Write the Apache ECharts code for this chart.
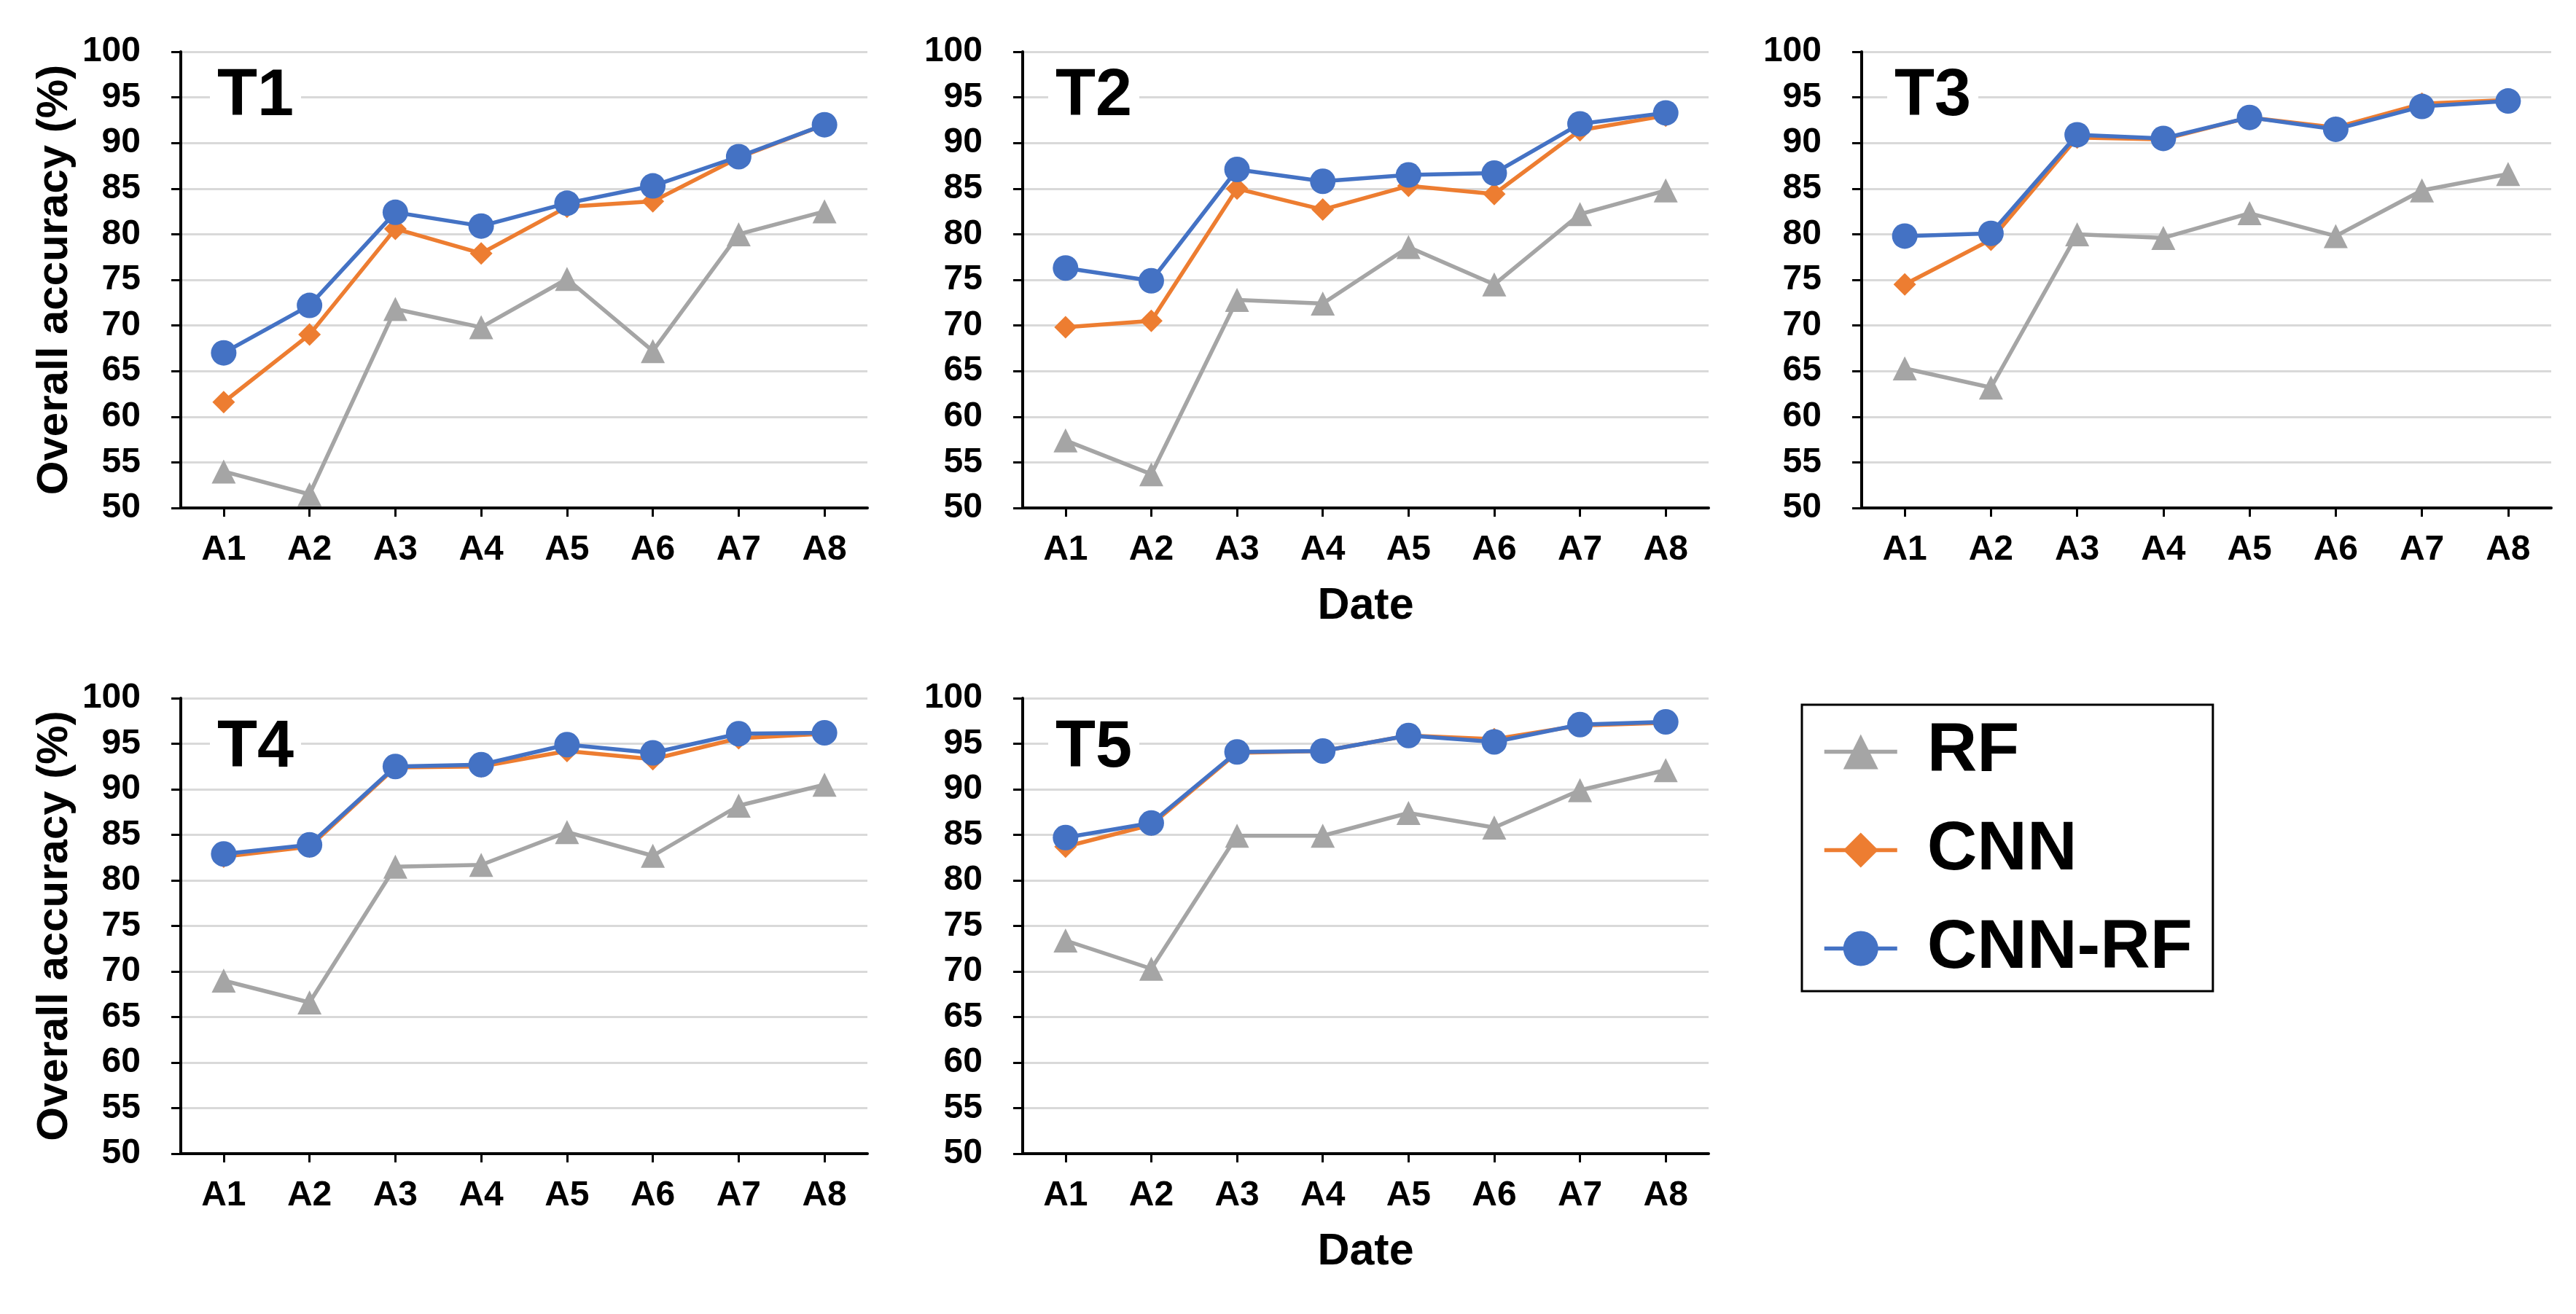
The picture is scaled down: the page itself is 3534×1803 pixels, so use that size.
<!DOCTYPE html>
<html>
<head>
<meta charset="utf-8">
<script src="https://cdn.jsdelivr.net/npm/echarts@6/dist/echarts.min.js"></script>
<style>
html,body{margin:0;padding:0;background:#fff;}
#chart{width:3534px;height:1803px;}
</style>
</head>
<body>
<div id="chart"></div>
<script>
const categories = ['A1','A2','A3','A4','A5','A6','A7','A8'];
const yTicks = [50,55,60,65,70,75,80,85,90,95,100];
const seriesNames = ['RF','CNN','CNN-RF'];
const panelLabels = ['T1','T2','T3','T4','T5'];

const rfT1    = [54.0, 51.5, 71.8, 69.8, 75.1, 67.2, 80.0, 82.5];
const cnnT1   = [61.6, 69.0, 80.6, 77.9, 83.0, 83.6, 88.4, 92.0];
const cnnrfT1 = [67.0, 72.2, 82.4, 80.9, 83.4, 85.3, 88.5, 92.0];

const rfT2    = [57.4, 53.7, 72.8, 72.4, 78.6, 74.5, 82.2, 84.8];
const cnnT2   = [69.8, 70.5, 85.0, 82.7, 85.3, 84.4, 91.4, 93.0];
const cnnrfT2 = [76.3, 74.9, 87.1, 85.8, 86.5, 86.7, 92.1, 93.3];

const rfT3    = [65.3, 63.2, 80.0, 79.6, 82.3, 79.8, 84.8, 86.6];
const cnnT3   = [74.5, 79.4, 90.6, 90.4, 92.8, 91.7, 94.3, 94.7];
const cnnrfT3 = [79.8, 80.1, 90.9, 90.5, 92.8, 91.5, 94.0, 94.6];

const rfT4    = [69.0, 66.6, 81.5, 81.7, 85.3, 82.7, 88.2, 90.5];
const cnnT4   = [82.6, 83.7, 92.4, 92.5, 94.2, 93.3, 95.6, 96.1];
const cnnrfT4 = [82.9, 83.9, 92.5, 92.7, 94.9, 94.0, 96.1, 96.2];

const rfT5    = [73.4, 70.3, 84.9, 84.9, 87.4, 85.8, 89.9, 92.1];
const cnnT5   = [83.7, 86.1, 94.0, 94.2, 95.9, 95.5, 97.0, 97.3];
const cnnrfT5 = [84.7, 86.3, 94.1, 94.2, 95.9, 95.2, 97.1, 97.4];

const panelData = [
  [rfT1, cnnT1, cnnrfT1],
  [rfT2, cnnT2, cnnrfT2],
  [rfT3, cnnT3, cnnrfT3],
  [rfT4, cnnT4, cnnrfT4],
  [rfT5, cnnT5, cnnrfT5]
];

const FONT = '"Liberation Sans", Arial, sans-serif';
const colors = ['#a5a5a5', '#ed7d31', '#4472c4'];
const symbols = ['triangle', 'diamond', 'circle'];
const symbolSizes = [33, 31, 35];

const grids = [
  {left: 248,  top: 71,  width: 942, height: 626},
  {left: 1403, top: 71,  width: 941, height: 626},
  {left: 2554, top: 71,  width: 946, height: 626},
  {left: 248,  top: 958, width: 942, height: 625},
  {left: 1403, top: 958, width: 941, height: 625}
];
const labelPos = [
  {left: 288,  top: 86},
  {left: 1438, top: 86},
  {left: 2589, top: 86},
  {left: 288,  top: 980},
  {left: 1438, top: 980}
];

const xAxes = grids.map((g, i) => ({
  type: 'category',
  gridIndex: i,
  data: categories,
  boundaryGap: true,
  name: (i === 1 || i === 4) ? 'Date' : '',
  nameLocation: 'middle',
  nameGap: 105,
  nameTextStyle: {fontFamily: FONT, fontWeight: 'bold', fontSize: 61, color: '#000'},
  axisLine: {show: true, lineStyle: {color: '#000', width: 4}},
  axisTick: {show: true, alignWithLabel: true, length: 12, lineStyle: {color: '#000', width: 3}},
  axisLabel: {interval: 0, margin: 34, fontFamily: FONT, fontWeight: 'bold', fontSize: 48, color: '#000'},
  splitLine: {show: false}
}));

const yAxes = grids.map((g, i) => ({
  type: 'value',
  gridIndex: i,
  min: yTicks[0],
  max: yTicks[yTicks.length - 1],
  interval: 5,
  name: (i === 0 || i === 3) ? 'Overall accuracy (%)' : '',
  nameLocation: 'middle',
  nameGap: 143,
  nameTextStyle: {fontFamily: FONT, fontWeight: 'bold', fontSize: 60, color: '#000'},
  axisLine: {show: true, lineStyle: {color: '#000', width: 4}},
  axisTick: {show: true, length: 13, lineStyle: {color: '#000', width: 3}},
  axisLabel: {margin: 55, fontFamily: FONT, fontWeight: 'bold', fontSize: 48, color: '#000'},
  splitLine: {show: true, lineStyle: {color: '#d9d9d9', width: 3}}
}));

const series = [];
panelData.forEach((trip, i) => {
  trip.forEach((vals, k) => {
    series.push({
      type: 'line',
      name: seriesNames[k],
      xAxisIndex: i,
      yAxisIndex: i,
      data: vals,
      symbol: symbols[k],
      symbolSize: symbolSizes[k],
      showSymbol: true,
      z: 2 + k,
      lineStyle: {color: colors[k], width: 5.5},
      itemStyle: {color: colors[k], borderWidth: 0},
      emphasis: {disabled: true}
    });
  });
});

const titles = panelLabels.map((t, i) => ({
  text: t,
  left: labelPos[i].left,
  top: labelPos[i].top,
  padding: [2, 10, 2, 10],
  backgroundColor: '#fff',
  textStyle: {fontFamily: FONT, fontWeight: 'bold', fontSize: 90, color: '#000', lineHeight: 90}
}));

const option = {
  animation: false,
  backgroundColor: '#fff',
  title: titles,
  grid: grids,
  xAxis: xAxes,
  yAxis: yAxes,
  legend: {
    data: seriesNames,
    orient: 'vertical',
    left: 2472,
    top: 967,
    padding: [17, 28, 11, 28],
    borderColor: '#000',
    borderWidth: 3,
    itemWidth: 100,
    itemHeight: 60,
    itemGap: 40,
    selectedMode: false,
    lineStyle: {width: 5.5},
    textStyle: {fontFamily: FONT, fontWeight: 'bold', fontSize: 95, color: '#000', padding: [0, 0, 0, 36]}
  },
  series: series
};

const chart = echarts.init(document.getElementById('chart'), null, {renderer: 'canvas'});
chart.setOption(option);
</script>
</body>
</html>
